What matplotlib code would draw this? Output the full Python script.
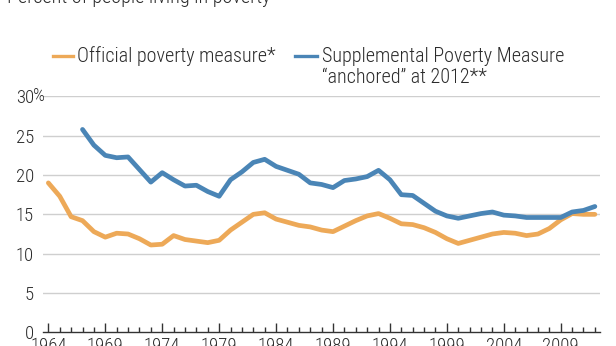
import matplotlib
matplotlib.use('Agg')
import matplotlib.pyplot as plt
from matplotlib import font_manager
from matplotlib.lines import Line2D
from matplotlib.ticker import MultipleLocator

# Pick a narrow sans if one is installed
available = {f.name for f in font_manager.fontManager.ttflist}
FONT = 'DejaVu Sans'
for name in ['Liberation Sans Narrow', 'Roboto Condensed', 'Open Sans Condensed', 'Liberation Sans']:
    if name in available:
        FONT = name
        break
plt.rcParams['font.family'] = [FONT, 'DejaVu Sans']
plt.rcParams['font.weight'] = 'light'

ORANGE = '#EDA958'
BLUE = '#4A85B6'
TEXT = '#2b2b2b'

# Poverty rates, percent of people
years_official = list(range(1964, 2013))
official = [19.0, 17.3, 14.7, 14.2, 12.8, 12.1, 12.6, 12.5, 11.9, 11.1,
            11.2, 12.3, 11.8, 11.6, 11.4, 11.7, 13.0, 14.0, 15.0, 15.2,
            14.4, 14.0, 13.6, 13.4, 13.0, 12.8, 13.5, 14.2, 14.8, 15.1,
            14.5, 13.8, 13.7, 13.3, 12.7, 11.9, 11.3, 11.7, 12.1, 12.5,
            12.7, 12.6, 12.3, 12.5, 13.2, 14.3, 15.1, 15.0, 15.0]

years_spm = list(range(1967, 2013))
spm_anchored = [25.8, 23.8, 22.5, 22.2, 22.3, 20.7, 19.1, 20.3, 19.4, 18.6,
                18.7, 17.9, 17.3, 19.4, 20.4, 21.6, 22.0, 21.1, 20.6, 20.1,
                19.0, 18.8, 18.4, 19.3, 19.5, 19.8, 20.6, 19.4, 17.5, 17.4,
                16.4, 15.4, 14.8, 14.5, 14.8, 15.1, 15.3, 14.9, 14.8, 14.6,
                14.6, 14.6, 14.6, 15.3, 15.5, 16.0]

y_ticks = [0, 5, 10, 15, 20, 25, 30]
x_ticks = [1964, 1969, 1974, 1979, 1984, 1989, 1994, 1999, 2004, 2009]

W, H = 616, 346
fig = plt.figure(figsize=(W / 100, H / 100), dpi=100)


def fx(px):
    return px / W


def fy(py):
    return 1 - py / H


ax = fig.add_axes([fx(43), fy(332.3), fx(600) - fx(43), fy(96.4) - fy(332.3)])

for y in y_ticks[1:]:
    ax.axhline(y, color='#cfcfcf', lw=1.0, zorder=1)

ax.plot(years_official, official, color=ORANGE, lw=3.4, zorder=3,
        solid_capstyle='round', solid_joinstyle='round', clip_on=False)
ax.plot(years_spm, spm_anchored, color=BLUE, lw=3.4, zorder=4,
        solid_capstyle='round', solid_joinstyle='round', clip_on=False)

ax.set_xlim(1963.53, 2012.45)
ax.set_ylim(0, 30)

for side in ['top', 'right', 'left']:
    ax.spines[side].set_visible(False)
ax.spines['bottom'].set_color('#333333')
ax.spines['bottom'].set_linewidth(1.0)

ax.set_yticks(y_ticks)
ax.set_yticklabels([str(v) for v in y_ticks])
ax.tick_params(axis='y', length=0, pad=6.5, labelsize=13.5, labelcolor=TEXT)

ax.set_xticks(x_ticks)
ax.set_xticklabels([str(v) for v in x_ticks])
ax.xaxis.set_minor_locator(MultipleLocator(1))
ax.tick_params(axis='x', which='major', direction='in', length=6.5, width=1.0,
               color='#333333', pad=3.2, labelsize=13.5, labelcolor=TEXT)
ax.tick_params(axis='x', which='minor', direction='in', length=3.8, width=1.0,
               color='#333333')

# percent sign trails the top label
fig.text(fx(33.5), fy(96.4), '%', ha='left', va='center', fontsize=13.5, color=TEXT)

# Title, partly above the frame
fig.text(fx(7), fy(2.7), 'Percent of people living in poverty', ha='left',
         va='baseline', fontsize=14.5, color=TEXT)

# Legend
fig.add_artist(Line2D([fx(53), fx(73)], [fy(55.7), fy(55.7)], color=ORANGE, lw=2.4))
fig.text(fx(77), fy(61.7), 'Official poverty measure*', ha='left', va='baseline',
         fontsize=14.5, color=TEXT)
fig.add_artist(Line2D([fx(295), fx(317)], [fy(55.7), fy(55.7)], color=BLUE, lw=2.4))
fig.text(fx(321.7), fy(61.7), 'Supplemental Poverty Measure', ha='left', va='baseline',
         fontsize=14.5, color=TEXT)
fig.text(fx(321.7), fy(83.3), '\u201canchored\u201d at 2012**', ha='left', va='baseline',
         fontsize=14.5, color=TEXT)

fig.savefig('out.png', dpi=100)
